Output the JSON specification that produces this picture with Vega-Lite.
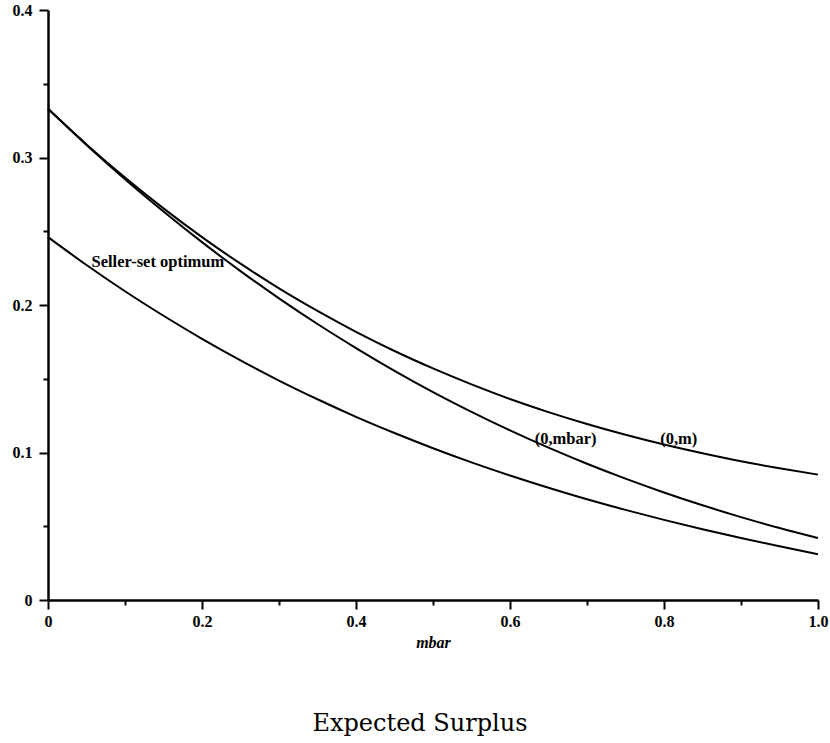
{
  "$schema": "https://vega.github.io/schema/vega-lite/v6.json",
  "width": 770,
  "height": 590,
  "autosize": "none",
  "padding": {"left": 48, "top": 10, "right": 12, "bottom": 143},
  "background": "white",
  "title": {
    "text": "Expected Surplus",
    "orient": "bottom",
    "anchor": "middle",
    "font": "DejaVu Serif",
    "fontSize": 24,
    "fontWeight": "normal",
    "color": "black",
    "offset": 62,
    "dx": -13
  },
  "config": {
    "view": {"stroke": null},
    "axis": {"grid": false, "domainColor": "black", "tickColor": "black", "labelColor": "black", "titleColor": "black", "domainWidth": 2.5, "tickWidth": 2, "labelFont": "Liberation Serif", "labelFontWeight": "bold", "labelFontSize": 16, "titleFont": "Liberation Serif"}
  },
  "datasets": {
    "curves": [
      {"x": 0, "y": 0.333, "s": "(0,m)"},
      {"x": 0.05, "y": 0.3089, "s": "(0,m)"},
      {"x": 0.1, "y": 0.2864, "s": "(0,m)"},
      {"x": 0.15, "y": 0.2655, "s": "(0,m)"},
      {"x": 0.2, "y": 0.246, "s": "(0,m)"},
      {"x": 0.25, "y": 0.228, "s": "(0,m)"},
      {"x": 0.3, "y": 0.2113, "s": "(0,m)"},
      {"x": 0.35, "y": 0.196, "s": "(0,m)"},
      {"x": 0.4, "y": 0.1818, "s": "(0,m)"},
      {"x": 0.45, "y": 0.1688, "s": "(0,m)"},
      {"x": 0.5, "y": 0.157, "s": "(0,m)"},
      {"x": 0.55, "y": 0.1462, "s": "(0,m)"},
      {"x": 0.6, "y": 0.1363, "s": "(0,m)"},
      {"x": 0.65, "y": 0.1274, "s": "(0,m)"},
      {"x": 0.7, "y": 0.1193, "s": "(0,m)"},
      {"x": 0.75, "y": 0.112, "s": "(0,m)"},
      {"x": 0.8, "y": 0.1054, "s": "(0,m)"},
      {"x": 0.85, "y": 0.0995, "s": "(0,m)"},
      {"x": 0.9, "y": 0.0941, "s": "(0,m)"},
      {"x": 0.95, "y": 0.0893, "s": "(0,m)"},
      {"x": 1.0, "y": 0.085, "s": "(0,m)"},
      {"x": 0, "y": 0.333, "s": "(0,mbar)"},
      {"x": 0.05, "y": 0.3085, "s": "(0,mbar)"},
      {"x": 0.1, "y": 0.2853, "s": "(0,mbar)"},
      {"x": 0.15, "y": 0.2634, "s": "(0,mbar)"},
      {"x": 0.2, "y": 0.2426, "s": "(0,mbar)"},
      {"x": 0.25, "y": 0.223, "s": "(0,mbar)"},
      {"x": 0.3, "y": 0.2045, "s": "(0,mbar)"},
      {"x": 0.35, "y": 0.1871, "s": "(0,mbar)"},
      {"x": 0.4, "y": 0.1708, "s": "(0,mbar)"},
      {"x": 0.45, "y": 0.1554, "s": "(0,mbar)"},
      {"x": 0.5, "y": 0.141, "s": "(0,mbar)"},
      {"x": 0.55, "y": 0.1276, "s": "(0,mbar)"},
      {"x": 0.6, "y": 0.115, "s": "(0,mbar)"},
      {"x": 0.65, "y": 0.1033, "s": "(0,mbar)"},
      {"x": 0.7, "y": 0.0924, "s": "(0,mbar)"},
      {"x": 0.75, "y": 0.0823, "s": "(0,mbar)"},
      {"x": 0.8, "y": 0.0729, "s": "(0,mbar)"},
      {"x": 0.85, "y": 0.0642, "s": "(0,mbar)"},
      {"x": 0.9, "y": 0.0562, "s": "(0,mbar)"},
      {"x": 0.95, "y": 0.0488, "s": "(0,mbar)"},
      {"x": 1.0, "y": 0.042, "s": "(0,mbar)"},
      {"x": 0, "y": 0.246, "s": "Seller-set optimum"},
      {"x": 0.05, "y": 0.2271, "s": "Seller-set optimum"},
      {"x": 0.1, "y": 0.2093, "s": "Seller-set optimum"},
      {"x": 0.15, "y": 0.1927, "s": "Seller-set optimum"},
      {"x": 0.2, "y": 0.1771, "s": "Seller-set optimum"},
      {"x": 0.25, "y": 0.1625, "s": "Seller-set optimum"},
      {"x": 0.3, "y": 0.1488, "s": "Seller-set optimum"},
      {"x": 0.35, "y": 0.1361, "s": "Seller-set optimum"},
      {"x": 0.4, "y": 0.1242, "s": "Seller-set optimum"},
      {"x": 0.45, "y": 0.1132, "s": "Seller-set optimum"},
      {"x": 0.5, "y": 0.1029, "s": "Seller-set optimum"},
      {"x": 0.55, "y": 0.0933, "s": "Seller-set optimum"},
      {"x": 0.6, "y": 0.0844, "s": "Seller-set optimum"},
      {"x": 0.65, "y": 0.0761, "s": "Seller-set optimum"},
      {"x": 0.7, "y": 0.0683, "s": "Seller-set optimum"},
      {"x": 0.75, "y": 0.0611, "s": "Seller-set optimum"},
      {"x": 0.8, "y": 0.0543, "s": "Seller-set optimum"},
      {"x": 0.85, "y": 0.048, "s": "Seller-set optimum"},
      {"x": 0.9, "y": 0.042, "s": "Seller-set optimum"},
      {"x": 0.95, "y": 0.0364, "s": "Seller-set optimum"},
      {"x": 1.0, "y": 0.031, "s": "Seller-set optimum"}
    ],
    "labels": [
      {"x": 0.0565, "y": 0.2256, "label": "Seller-set optimum"},
      {"x": 0.632, "y": 0.106, "label": "(0,mbar)"},
      {"x": 0.795, "y": 0.106, "label": "(0,m)"}
    ]
  },
  "layer": [
    {
      "data": {"name": "curves"},
      "mark": {"type": "line", "color": "black", "strokeWidth": 2, "interpolate": "monotone", "clip": false},
      "encoding": {
        "x": {"field": "x", "type": "quantitative", "scale": {"domain": [0, 1], "nice": false, "zero": false},
          "axis": {"orient": "bottom", "values": [0, 0.2, 0.4, 0.6, 0.8, 1.0], "labelExpr": "datum.value == 0 ? '0' : format(datum.value, '.1f')", "tickSize": 9, "labelPadding": 4, "labelFlush": false, "labelOverlap": false,
            "title": "mbar", "titleFont": "Liberation Serif", "titleFontStyle": "italic", "titleFontWeight": "bold", "titleFontSize": 16, "titlePadding": 5}},
        "y": {"field": "y", "type": "quantitative", "scale": {"domain": [0, 0.4], "nice": false},
          "axis": {"orient": "left", "values": [0, 0.1, 0.2, 0.3, 0.4], "labelExpr": "datum.value == 0 ? '0' : format(datum.value, '.1f')", "tickSize": 9, "labelPadding": 7, "labelFlush": false, "labelOverlap": false, "title": null}},
        "detail": {"field": "s", "type": "nominal"}
      }
    },
    {
      "data": {"name": "labels"},
      "mark": {"type": "text", "align": "left", "baseline": "alphabetic", "font": "Liberation Serif", "fontSize": 16.5, "fontWeight": "bold", "color": "black"},
      "encoding": {
        "x": {"field": "x", "type": "quantitative", "axis": null},
        "y": {"field": "y", "type": "quantitative", "axis": null},
        "text": {"field": "label", "type": "nominal"}
      }
    },
    {
      "data": {"name": "labels"},
      "mark": {"type": "point", "opacity": 0},
      "encoding": {
        "x": {"field": "x", "type": "quantitative",
          "axis": {"orient": "bottom", "values": [0.1, 0.3, 0.5, 0.7, 0.9], "labels": false, "domain": false, "tickSize": 5, "title": null}},
        "y": {"field": "y", "type": "quantitative",
          "axis": {"orient": "left", "values": [0.05, 0.15, 0.25, 0.35], "labels": false, "domain": false, "tickSize": 5, "title": null}}
      }
    }
  ],
  "resolve": {"axis": {"x": "independent", "y": "independent"}}
}
